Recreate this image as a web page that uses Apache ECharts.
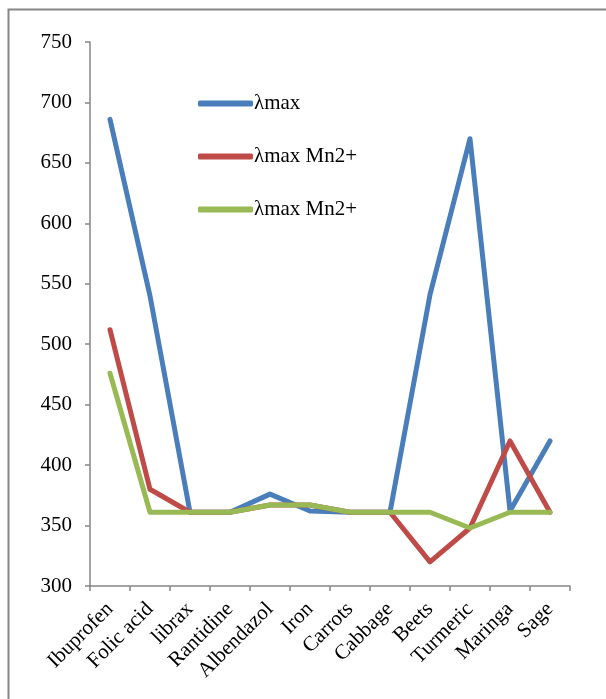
<!DOCTYPE html>
<html>
<head>
<meta charset="utf-8">
<script src="https://cdn.jsdelivr.net/npm/echarts@6/dist/echarts.min.js"></script>
<style>
html,body{margin:0;padding:0;background:#fff;}
#chart{width:606px;height:699px;}
</style>
</head>
<body>
<div id="chart"></div>
<script>
const categories = ['Ibuprofen','Folic acid','librax','Rantidine','Albendazol','Iron','Carrots','Cabbage','Beets','Turmeric','Maringa','Sage'];
const lambdaMax = [686, 540, 361, 361, 376, 362, 361, 361, 541, 670, 362, 420];
const lambdaMaxMn = [512, 380, 361, 361, 367, 367, 361, 361, 320, 348, 420, 361];
const lambdaMaxMn2 = [476, 361, 361, 361, 367, 367, 361, 361, 361, 348, 361, 361];
const seriesNames = ['λmax', 'λmax Mn2+', 'λmax Mn2+ '];
const yTicks = {min: 300, max: 750, interval: 50};

const font = 'Liberation Serif, Times New Roman, serif';
const chart = echarts.init(document.getElementById('chart'), null, {renderer: 'canvas'});
const colors = ['#4a7ebb', '#be4b48', '#98b954'];
const data = [lambdaMax, lambdaMaxMn, lambdaMaxMn2];

chart.setOption({
  animation: false,
  color: colors,
  graphic: [{
    type: 'polyline',
    shape: {points: [[8.5, 720], [8.5, 9.5], [620, 9.5]]},
    style: {stroke: '#868686', lineWidth: 2, fill: null}
  }],
  legend: {
    orient: 'vertical',
    left: 198,
    top: 93,
    padding: 0,
    itemWidth: 55,
    itemHeight: 6,
    itemGap: 32,
    icon: 'roundRect',
    data: seriesNames,
    formatter: n => n.trim(),
    textStyle: {fontFamily: font, fontSize: 21, color: '#000', padding: [0, 0, 0, -4]}
  },
  grid: {left: 90, right: 36, top: 42, bottom: 113, containLabel: false},
  xAxis: {
    type: 'category',
    data: categories,
    boundaryGap: true,
    axisLine: {lineStyle: {color: '#868686', width: 1.5}},
    axisTick: {show: true, alignWithLabel: false, length: 5, lineStyle: {color: '#868686', width: 1.5}},
    axisLabel: {interval: 0, rotate: 45, fontFamily: font, fontSize: 21, color: '#000', margin: 20}
  },
  yAxis: {
    type: 'value',
    min: yTicks.min, max: yTicks.max, interval: yTicks.interval,
    splitLine: {show: false},
    axisLine: {show: true, lineStyle: {color: '#868686', width: 1.5}},
    axisTick: {show: true, length: 5, lineStyle: {color: '#868686', width: 1.5}},
    axisLabel: {fontFamily: font, fontSize: 21, color: '#000', margin: 18}
  },
  series: seriesNames.map((n, i) => ({
    name: n,
    type: 'line',
    data: data[i],
    symbol: 'none',
    lineStyle: {width: 5, cap: 'round', join: 'round'}
  }))
});
</script>
</body>
</html>
